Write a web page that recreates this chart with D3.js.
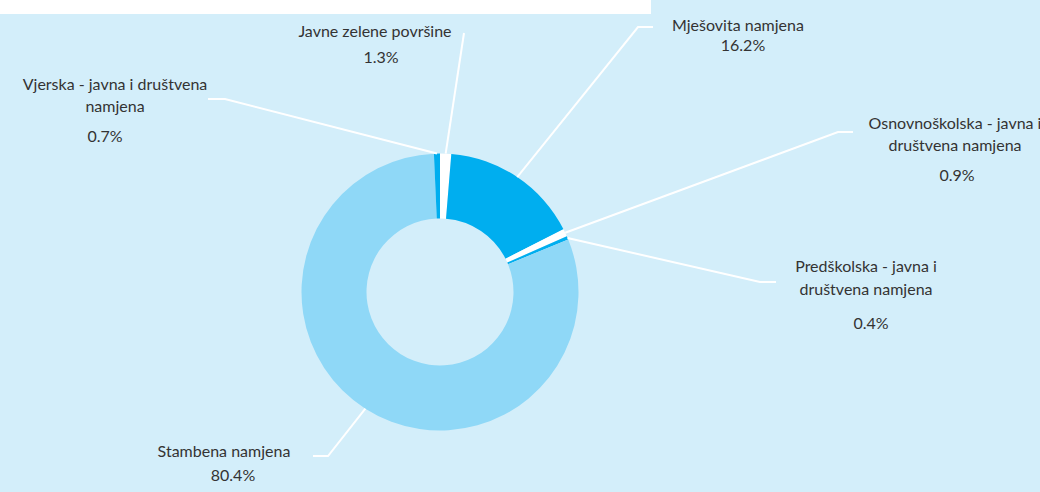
<html>
<head>
<script src="https://d3js.org/d3.v7.min.js"></script>
<style>
  html, body { margin: 0; background: #d3eefa; overflow: hidden; }
  svg { display: block; }
  .lbl { font: 16px Lato, sans-serif; fill: #333; }
</style>
</head>
<body>
<svg width="1040" height="492"></svg>
<script>
// slice data, clockwise from 12 o'clock
var categories = ["Javne zelene površine", "Mješovita namjena", "Osnovnoškolska - javna i društvena namjena",
                  "Predškolska - javna i društvena namjena", "Stambena namjena", "Vjerska - javna i društvena namjena"];
var shares = [1.3, 16.2, 0.9, 0.4, 80.4, 0.7];
var labelLines = [
  ["Javne zelene površine"],
  ["Mješovita namjena"],
  ["Osnovnoškolska - javna i", "društvena namjena"],
  ["Predškolska - javna i", "društvena namjena"],
  ["Stambena namjena"],
  ["Vjerska - javna i društvena", "namjena"]
];

var colors = ["#ffffff", "#00aeef", "#ffffff", "#00aeef", "#8fd8f7", "#00aeef"];

// label placement: elbow, end of leader, text centre, baselines, percent x/baseline
var layout = [
  {elbow: [464, 33], end: [464, 33], tx: 375, ys: [37], px: 381, py: 63},
  {elbow: [638, 27], end: [653, 27], tx: 738, ys: [31], px: 743, py: 51},
  {elbow: [838, 132], end: [853, 132], tx: 955, ys: [129, 151], px: 957, py: 181},
  {elbow: [760, 282], end: [776, 282], tx: 866, ys: [272, 295], px: 871, py: 329},
  {elbow: [328, 456], end: [313, 456], tx: 224, ys: [457], px: 233, py: 481},
  {elbow: [225, 99], end: [208, 99], tx: 115, ys: [90, 112], px: 105, py: 142}
];

var cx = 440, cy = 292, rOut = 138.5, rIn = 73.5;
var svg = d3.select("svg");

svg.append("rect").attr("width", 1040).attr("height", 492).attr("fill", "#d3eefa");
// white strip at top left (title area cut off)
svg.append("rect").attr("x", 0).attr("y", 0).attr("width", 651).attr("height", 14).attr("fill", "#fff");

var pie = d3.pie().sort(null).value(function(d){ return d; });
var arcs = pie(shares);
var arc = d3.arc().innerRadius(rIn).outerRadius(rOut);
var edge = d3.arc().innerRadius(rOut).outerRadius(rOut);

var g = svg.append("g").attr("transform", "translate(" + cx + "," + cy + ")");
g.selectAll("path").data(arcs).enter()
  .append("path")
  .attr("d", arc)
  .attr("fill", function(d, i){ return colors[i]; });

// leader lines
svg.selectAll(".leader").data(arcs).enter()
  .append("polyline")
  .attr("class", "leader")
  .attr("fill", "none")
  .attr("stroke", "#fff")
  .attr("stroke-width", 2)
  .attr("points", function(d, i) {
    var c = edge.centroid(d);
    var L = layout[i];
    return [[c[0] + cx, c[1] + cy], L.elbow, L.end].map(function(p){ return p.join(","); }).join(" ");
  });

// labels
arcs.forEach(function(d, i) {
  var L = layout[i];
  labelLines[i].forEach(function(line, k) {
    svg.append("text").attr("class", "lbl")
      .attr("x", L.tx).attr("y", L.ys[k])
      .attr("text-anchor", "middle")
      .text(line);
  });
  svg.append("text").attr("class", "lbl")
    .attr("x", L.px).attr("y", L.py)
    .attr("text-anchor", "middle")
    .text(d3.format(".1f")(shares[i]) + "%");
});
</script>
</body>
</html>
